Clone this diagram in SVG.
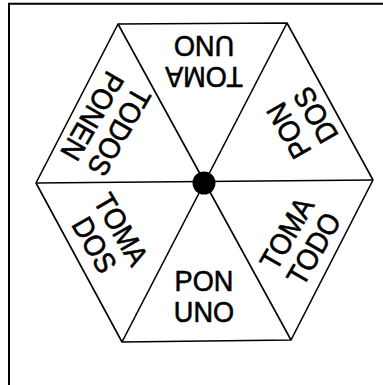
<svg xmlns="http://www.w3.org/2000/svg" width="383" height="385" viewBox="0 0 383 385">
<style>
.edge{fill:none;stroke:#000;stroke-width:1.6;stroke-linejoin:round}
.lbl{font-family:"Liberation Sans",Arial,sans-serif;font-size:29.5px;fill:#000;stroke:#000;stroke-width:0.6;text-anchor:middle}
</style>
<rect width="383" height="385" fill="#fff"/>
<path d="M9,385 V3.7 H383" fill="none" stroke="#000" stroke-width="2"/>
<g id="connectors">
<polygon class="edge" points="118,24 287,23 373,180 291,340 122,342 36,183"/>
<line class="edge" x1="36" y1="183" x2="373" y2="180"/>
<line class="edge" x1="118" y1="24" x2="291" y2="340"/>
<line class="edge" x1="287" y1="23" x2="122" y2="342"/>
</g>
<g id="hub"><circle cx="204" cy="183" r="11.5" fill="#000"/></g>
<g id="pon-uno" transform="translate(204,295.5) rotate(0) scale(0.92,1)"><text class="lbl" y="-5">PON</text><text class="lbl" y="26">UNO</text></g>
<g id="toma-dos" transform="translate(108,237) rotate(60) scale(0.92,1)"><text class="lbl" y="-5">TOMA</text><text class="lbl" y="26">DOS</text></g>
<g id="todos-ponen" transform="translate(106,124) rotate(120) scale(0.92,1)"><text class="lbl" y="-5">TODOS</text><text class="lbl" y="26">PONEN</text></g>
<g id="toma-uno" transform="translate(204,61.7) rotate(180) scale(0.92,1)"><text class="lbl" y="-5">TOMA</text><text class="lbl" y="26">UNO</text></g>
<g id="pon-dos" transform="translate(302,123) rotate(240) scale(0.92,1)"><text class="lbl" y="-5">PON</text><text class="lbl" y="26">DOS</text></g>
<g id="toma-todo" transform="translate(300,241) rotate(300) scale(0.92,1)"><text class="lbl" y="-5">TOMA</text><text class="lbl" y="26">TODO</text></g>
</svg>
